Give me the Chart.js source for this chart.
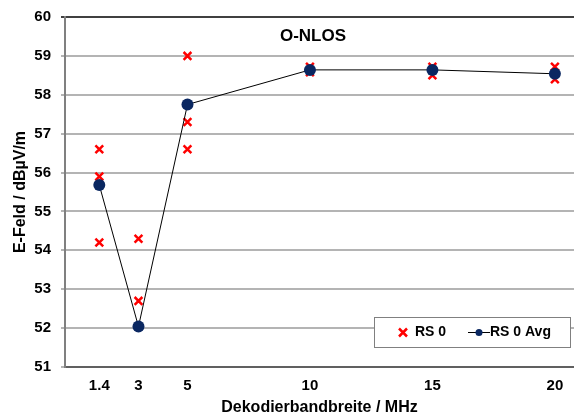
<!DOCTYPE html>
<html>
<head>
<meta charset="utf-8">
<script src="https://cdn.jsdelivr.net/npm/chart.js@4/dist/chart.umd.min.js"></script>
<style>
  body { margin: 0; background: #fff; }
</style>
</head>
<body>
<canvas id="chart" width="574" height="414"></canvas>
<script>
var bandwidths = [1.4, 3, 5, 10, 15, 20];
var xTicks = [1.4, 3, 5, 10, 15, 20];

// single measurements (RS 0)
var rsX = [1.4, 1.4, 1.4, 3, 3, 5, 5, 5, 10, 10, 15, 15, 20, 20];
var rsY = [56.6, 55.9, 54.2, 54.3, 52.7, 59.0, 57.3, 56.6, 58.72, 58.58, 58.72, 58.5, 58.72, 58.4];

// averages (RS 0 Avg)
var avgY = [55.68, 52.04, 57.75, 58.64, 58.64, 58.54];

var titleText = "O-NLOS";
var font = "'Liberation Sans', Arial, sans-serif";

var rsPoints = rsX.map(function (x, i) { return { x: x, y: rsY[i] }; });
var avgPoints = bandwidths.map(function (x, i) { return { x: x, y: avgY[i] }; });

var overlay = {
  id: "overlay",
  afterDraw: function (chart) {
    var ctx = chart.ctx;
    ctx.save();
    // title inside the plot
    ctx.fillStyle = "#000";
    ctx.font = "bold 17px " + font;
    ctx.textAlign = "center";
    ctx.textBaseline = "middle";
    ctx.fillText(titleText, 313, 36);

    // legend box
    var lx = 374, ly = 317, lw = 196, lh = 30;
    ctx.fillStyle = "#fff";
    ctx.fillRect(lx, ly, lw, lh);
    ctx.strokeStyle = "#808080";
    ctx.lineWidth = 1;
    ctx.strokeRect(lx + 0.5, ly + 0.5, lw, lh);
    var cy = ly + lh / 2 + 0.5;
    ctx.font = "bold 14px " + font;
    ctx.textAlign = "left";
    ctx.fillStyle = "#000";

    // RS 0 marker
    ctx.strokeStyle = "#ff0000";
    ctx.lineWidth = 2.5;
    ctx.beginPath();
    ctx.moveTo(399, cy - 4); ctx.lineTo(407, cy + 4);
    ctx.moveTo(407, cy - 4); ctx.lineTo(399, cy + 4);
    ctx.stroke();
    ctx.fillText(chart.data.datasets[0].label, 415, cy);

    // RS 0 Avg marker
    ctx.strokeStyle = "#000";
    ctx.lineWidth = 1;
    ctx.beginPath();
    ctx.moveTo(468, cy); ctx.lineTo(490, cy);
    ctx.stroke();
    ctx.fillStyle = "#0a2761";
    ctx.beginPath();
    ctx.arc(479, cy, 3.5, 0, Math.PI * 2);
    ctx.fill();
    ctx.fillStyle = "#000";
    ctx.fillText(chart.data.datasets[1].label, 490, cy);
    ctx.restore();
  }
};

new Chart(document.getElementById("chart"), {
  type: "scatter",
  data: {
    datasets: [
      {
        label: "RS 0",
        data: rsPoints,
        pointStyle: "crossRot",
        pointRadius: 5.5,
        pointBorderWidth: 2.5,
        borderColor: "#ff0000",
        backgroundColor: "#ff0000",
        showLine: false,
        order: 2
      },
      {
        label: "RS 0 Avg",
        data: avgPoints,
        showLine: true,
        borderColor: "#000",
        borderWidth: 1,
        pointStyle: "circle",
        pointRadius: 6,
        pointBackgroundColor: "#0a2761",
        pointBorderColor: "#0a2761",
        pointBorderWidth: 0,
        order: 1
      }
    ]
  },
  plugins: [overlay],
  options: {
    responsive: false,
    animation: false,
    devicePixelRatio: 1,
    layout: { autoPadding: false, padding: { top: 17, right: 0, left: 0, bottom: 0 } },
    plugins: {
      legend: { display: false },
      tooltip: { enabled: false }
    },
    scales: {
      x: {
        type: "linear",
        min: 0,
        max: 20.78,
        afterBuildTicks: function (axis) {
          axis.ticks = xTicks.map(function (v) { return { value: v }; });
        },
        afterFit: function (axis) {
          axis.height = 47;
          axis.paddingLeft = 0;
          axis.paddingRight = 0;
        },
        grid: { display: false, drawTicks: false },
        border: { color: "#606060", width: 2 },
        ticks: {
          padding: 10,
          color: "#000",
          font: { family: font, size: 15, weight: "bold" },
          callback: function (v) { return String(v); }
        },
        title: {
          display: true,
          text: "Dekodierbandbreite / MHz",
          color: "#000",
          font: { family: font, size: 16, weight: "bold" },
          padding: { top: 0, bottom: -3 }
        }
      },
      y: {
        min: 51,
        max: 60,
        afterFit: function (axis) {
          axis.width = 65;
          axis.paddingTop = 0;
          axis.paddingBottom = 0;
        },
        grid: {
          color: function (c) { return c.tick && c.tick.value === 60 ? "#404040" : "#b4b4b4"; },
          lineWidth: 2,
          tickLength: 4
        },
        border: { color: "#808080", width: 2 },
        ticks: {
          stepSize: 1,
          padding: 10,
          color: "#000",
          font: { family: font, size: 15, weight: "bold" }
        },
        title: {
          display: true,
          text: "E-Feld / dBµV/m",
          color: "#000",
          font: { family: font, size: 16, weight: "bold" },
          padding: { top: 11, bottom: 4 }
        }
      }
    }
  }
});
</script>
</body>
</html>
